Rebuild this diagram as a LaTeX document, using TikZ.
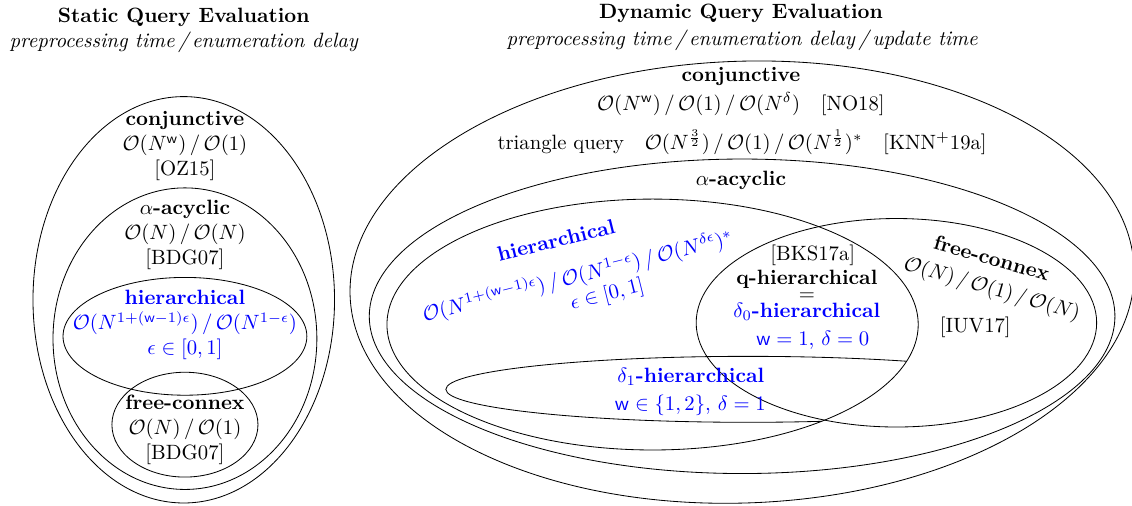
\documentclass[tikz,border=0pt]{standalone}
\usepackage{amsmath,amssymb}
\usepackage{tikz}
\tikzstyle{set} = [draw, line width=0.4pt]
\tikzstyle{txt} = [align=center, inner sep=0pt]
\tikzstyle{hier} = [txt, text=blue]
\tikzstyle{heading} = [txt, font=\bfseries]
\tikzstyle{sub} = [txt, font=\itshape]

\begin{document}
\begin{tikzpicture}

\useasboundingbox (0,0) rectangle (19.22,-8.59);

% static side
\node [heading] (stitle) at (3.12,-0.29) {Static Query Evaluation};
\node [sub] (ssub) at (3.12,-0.71) {preprocessing time\,/\,enumeration delay};

\draw [set] (3.12,-5.09) ellipse (2.56 and 3.45);
\draw [set] (3.14,-5.75) ellipse (2.24 and 2.56);
\draw [set] (3.14,-5.71) ellipse (2.07 and 1.00);
\draw [set] (3.14,-7.21) ellipse (1.24 and 0.89);

\node [txt] (sconj) at (3.14,-2.48) {\textbf{conjunctive}\\ $\mathcal{O}(N^{\mathsf{w}})\,/\,\mathcal{O}(1)$\\ {[OZ15]}};
\node [txt] (sacyc) at (3.14,-3.99) {$\alpha$\textbf{-acyclic}\\ $\mathcal{O}(N)\,/\,\mathcal{O}(N)$\\ {[BDG07]}};
\node [hier] (shier) at (3.14,-5.52) {\textbf{hierarchical}\\ $\mathcal{O}(N^{1+(\mathsf{w}-1)\epsilon})\,/\,\mathcal{O}(N^{1-\epsilon})$\\ $\epsilon\in[0,1]$};
\node [txt] (sfc) at (3.14,-7.30) {\textbf{free-connex}\\ $\mathcal{O}(N)\,/\,\mathcal{O}(1)$\\ {[BDG07]}};

% dynamic side
\node [heading] (dtitle) at (12.58,-0.22) {Dynamic Query Evaluation};
\node [sub] (dsub) at (12.60,-0.68) {preprocessing time\,/\,enumeration delay\,/\,update time};

\draw [set, rotate around={2:(12.60,-4.79)}] (12.60,-4.79) ellipse (6.66 and 3.75);
\draw [set] (12.60,-5.37) ellipse (6.33 and 2.67);
\draw [set] (11.08,-5.51) ellipse (4.51 and 2.13);
\draw [set] (15.22,-5.48) ellipse (3.40 and 1.77);
\begin{scope}
\clip (11.08,-5.51) ellipse (4.51 and 2.13);
\draw [set] (12.70,-6.61) ellipse (5.13 and 0.56);
\end{scope}

\node [txt] (dconj) at (12.58,-1.29) {\textbf{conjunctive}};
\node [txt] (dbound) at (12.58,-1.77) {$\mathcal{O}(N^{\mathsf{w}})\,/\,\mathcal{O}(1)\,/\,\mathcal{O}(N^{\delta})$\quad [NO18]};
\node [txt] (dtri) at (12.60,-2.41) {triangle query\quad $\mathcal{O}(N^{\frac{3}{2}})\,/\,\mathcal{O}(1)\,/\,\mathcal{O}(N^{\frac{1}{2}})^{*}$\quad [KNN$^{+}$19a]};
\node [txt] (dacyc) at (12.58,-3.07) {$\alpha$\textbf{-acyclic}};

\node [hier, rotate=14] (dhier) at (9.44,-4.08) {\textbf{hierarchical}};
\node [hier, rotate=14] (dhierO) at (9.81,-4.69) {$\mathcal{O}(N^{1+(\mathsf{w}-1)\epsilon})\,/\,\mathcal{O}(N^{1-\epsilon})\,/\,\mathcal{O}(N^{\delta\epsilon})^{*}$};
\node [hier, rotate=14] (dhierE) at (10.31,-5.01) {$\epsilon\in[0,1]$};

\node [txt] (dbks) at (13.80,-4.33) {[BKS17a]};
\node [txt] (dq) at (13.70,-4.75) {\textbf{q-hierarchical}};
\node [txt] (deq) at (13.70,-5.04) {$=$};
\node [hier] (dzero) at (13.70,-5.30) {$\delta_0$\textbf{-hierarchical}};
\node [hier] (dzeroW) at (13.80,-5.77) {$\mathsf{w}=1$, $\delta=0$};

\node [hier] (done) at (11.73,-6.40) {$\delta_1$\textbf{-hierarchical}};
\node [hier] (doneW) at (11.72,-6.88) {$\mathsf{w}\in\{1,2\}$, $\delta=1$};

\node [txt, rotate=-16] (dfc) at (16.84,-4.38) {\textbf{free-connex}};
\node [txt, rotate=-16] (dfcO) at (16.84,-4.92) {$\mathcal{O}(N)\,/\,\mathcal{O}(1)\,/\,\mathcal{O}(N)$};
\node [txt] (diuv) at (16.56,-5.55) {[IUV17]};

\end{tikzpicture}
\end{document}
